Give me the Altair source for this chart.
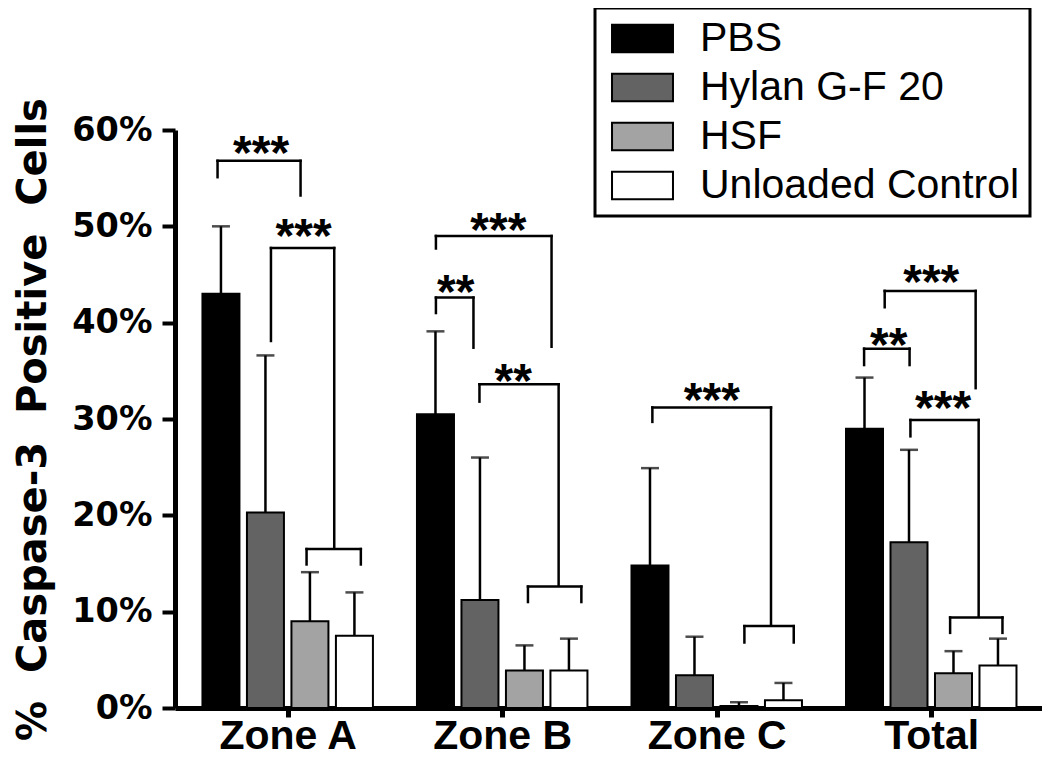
import altair as alt
import pandas as pd

# ---------------- data ----------------
groups = ["Zone A", "Zone B", "Zone C", "Total"]
series = ["PBS", "Hylan G-F 20", "HSF", "Unloaded Control"]
fills = ["#000000", "#636363", "#a3a3a3", "#ffffff"]

pbs_mean = [0.430, 0.305, 0.148, 0.290]
pbs_err = [0.070, 0.086, 0.101, 0.053]
hylan_mean = [0.203, 0.112, 0.034, 0.172]
hylan_err = [0.163, 0.148, 0.040, 0.096]
hsf_mean = [0.090, 0.039, 0.002, 0.036]
hsf_err = [0.051, 0.026, 0.004, 0.023]
uc_mean = [0.075, 0.039, 0.008, 0.044]
uc_err = [0.045, 0.033, 0.018, 0.028]

y_ticks = [0.0, 0.1, 0.2, 0.3, 0.4, 0.5, 0.6]
y_title = "%\u00a0 Caspase-3\u00a0 Positive\u00a0 Cells"

# significance brackets (x relative to group centre, in group units)
br_group = [0, 0, 0, 1, 1, 1, 1, 2, 2, 3, 3, 3, 3]
br_x1 = [-0.327, -0.078, 0.088, -0.309, -0.309, -0.106, 0.120, -0.300, 0.129, -0.313, -0.217, -0.097, 0.088]
br_x2 = [0.060, 0.217, 0.341, 0.230, -0.134, 0.263, 0.369, 0.253, 0.359, -0.101, 0.207, 0.221, 0.332]
br_top = [0.568, 0.4775, 0.165, 0.490, 0.426, 0.336, 0.126, 0.312, 0.085, 0.373, 0.433, 0.299, 0.094]
br_left_end = [0.551, 0.381, 0.149, 0.477, 0.410, 0.318, 0.110, 0.297, 0.068, 0.356, 0.416, 0.282, 0.078]
br_right_end = [0.532, 0.1655, 0.149, 0.375, 0.374, 0.127, 0.110, 0.086, 0.068, 0.356, 0.332, 0.095, 0.078]

star_group = [0, 0, 1, 1, 1, 2, 3, 3, 3]
star_x = [-0.124, 0.074, -0.018, -0.217, 0.051, -0.023, -0.198, 0.0, 0.055]
star_y = [0.589, 0.502, 0.509, 0.444, 0.352, 0.332, 0.389, 0.455, 0.324]
star_text = ["***", "***", "***", "**", "**", "***", "**", "***", "***"]

# ---------------- tables ----------------
means = [pbs_mean, hylan_mean, hsf_mean, uc_mean]
errs = [pbs_err, hylan_err, hsf_err, uc_err]
STEP = 0.2074
rows = []
for si, s in enumerate(series):
    for gi, g in enumerate(groups):
        m = means[si][gi]
        e = errs[si][gi]
        rows.append({"group": g, "series": s, "mean": m, "upper": m + e,
                     "xpos": gi + (si - 1.5) * STEP})
bars_df = pd.DataFrame(rows)

br_df = pd.DataFrame({
    "x1": [g + a for g, a in zip(br_group, br_x1)],
    "x2": [g + b for g, b in zip(br_group, br_x2)],
    "top": br_top, "lend": br_left_end, "rend": br_right_end,
})
star_df = pd.DataFrame({
    "x": [g + a for g, a in zip(star_group, star_x)],
    "y": star_y, "t": star_text,
})

# ---------------- scales / axes ----------------
X_SCALE = alt.Scale(domain=[-0.502, 3.493], nice=False, zero=False)
Y_SCALE = alt.Scale(domain=[0, 0.6], nice=False, zero=True)

x_axis = alt.Axis(values=[0, 1, 2, 3], labelExpr=f"{groups}[datum.value]", title=None,
                  grid=False, tickSize=9, tickWidth=5, tickColor="black",
                  domainColor="black", domainWidth=5, labelFont="Liberation Sans",
                  labelFontWeight="bold", labelFontSize=41, labelColor="black",
                  labelBaseline="alphabetic", labelPadding=31,
                  labelFlush=False, labelOverlap=False)
y_axis = alt.Axis(values=y_ticks, format=".0%", grid=False, tickSize=13, tickWidth=4,
                  tickColor="black", domainColor="black", domainWidth=5,
                  labelFont="DejaVu Sans", labelFontWeight="bold", labelFontSize=33.5,
                  labelColor="black", labelPadding=10, labelFlush=False,
                  title=y_title, titleFont="DejaVu Sans",
                  titleFontWeight="bold", titleFontSize=40, titleColor="black",
                  titleAngle=270, titleBaseline="alphabetic", titleAlign="center",
                  titleX=-130, titleY=289)


def X(field):
    return alt.X(f"{field}:Q", scale=X_SCALE, axis=x_axis)


def Y(field):
    return alt.Y(f"{field}:Q", scale=Y_SCALE, axis=y_axis, stack=False)


legend = alt.Legend(orient="none", legendX=420, legendY=-122, title=None,
                    symbolType="M-2.2,-1H2.2V1H-2.2Z", symbolSize=768,
                    symbolStrokeColor="black", symbolStrokeWidth=2, symbolOpacity=1,
                    labelFont="Liberation Sans", labelFontSize=41, labelColor="black",
                    labelLimit=600, labelOffset=37, symbolOffset=17, rowPadding=7,
                    padding=10, strokeColor="black", fillColor="white")

bars = alt.Chart(bars_df).mark_bar(size=37, stroke="black", strokeWidth=2,
                                   orient="vertical").encode(
    x=X("xpos"), y=Y("mean"),
    fill=alt.Fill("series:N", scale=alt.Scale(domain=series, range=fills),
                  sort=series, legend=legend),
)
err_line = alt.Chart(bars_df).mark_rule(color="black", strokeWidth=2.5).encode(
    x=X("xpos"), y=Y("mean"), y2="upper:Q")
err_cap = alt.Chart(bars_df).mark_tick(color="black", orient="horizontal", size=18,
                                       thickness=2.5).encode(
    x=X("xpos"), y=Y("upper"))

br_h = alt.Chart(br_df).mark_rule(color="black", strokeWidth=2.5, strokeCap="square").encode(
    x=X("x1"), x2="x2:Q", y=Y("top"))
br_l = alt.Chart(br_df).mark_rule(color="black", strokeWidth=2.5, strokeCap="square").encode(
    x=X("x1"), y=Y("top"), y2="lend:Q")
br_r = alt.Chart(br_df).mark_rule(color="black", strokeWidth=2.5, strokeCap="square").encode(
    x=X("x2"), y=Y("top"), y2="rend:Q")

stars = alt.Chart(star_df).mark_text(font="Liberation Sans", fontSize=48, fontWeight="bold",
                                     color="black", baseline="alphabetic", align="center",
                                     dy=28).encode(
    x=X("x"), y=Y("y"), text="t:N")

chart = alt.layer(bars, err_line, err_cap, br_h, br_l, br_r, stars).properties(
    width=867, height=578,
    autosize=alt.AutoSizeParams(type="none"),
    padding={"left": 167, "top": 122, "right": 0, "bottom": 50},
    background="white",
).configure_view(strokeWidth=0).configure_legend(strokeWidth=3)

chart.save("out.html", embed_options={"renderer": "svg", "actions": False})
